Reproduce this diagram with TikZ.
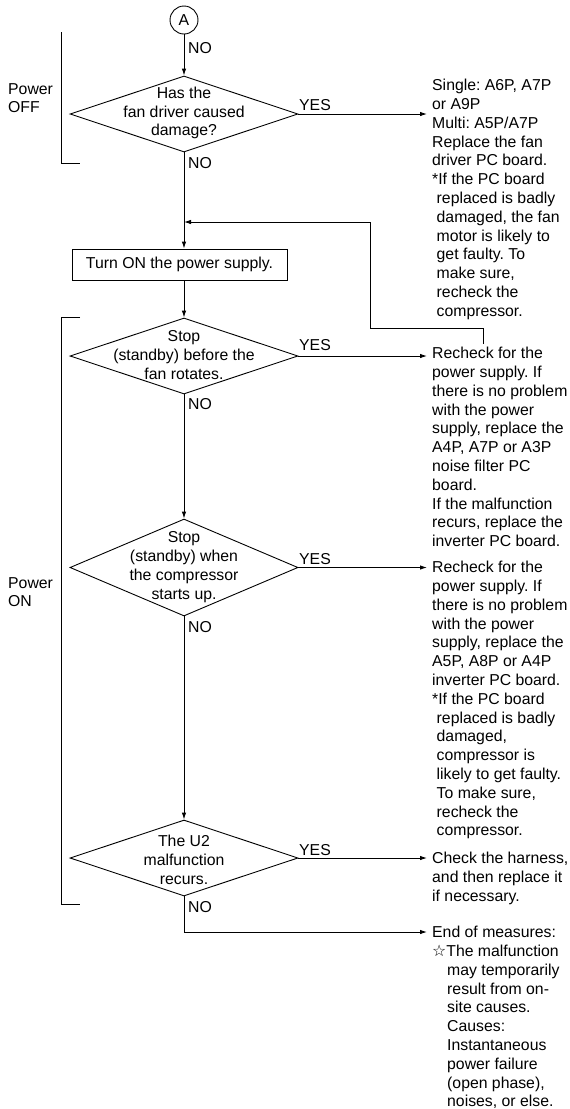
\documentclass[tikz,border=0pt]{standalone}
\usepackage{fontspec}
\setmainfont{Liberation Sans}
\newfontfamily\symfont{DejaVu Sans}
\usetikzlibrary{shapes.geometric,arrows.meta}
\newcommand\myfs{\fontsize{15.8}{18.8}\selectfont\frenchspacing}
\begin{document}
\begin{tikzpicture}[x=1pt,y=-1pt,
  every node/.style={font=\myfs, inner sep=0pt},
  ln/.style={line width=0.9pt},
  arr/.style={line width=0.9pt, -{Latex[length=7pt,width=4.5pt]}},
  decision/.style={draw, line width=0.9pt, diamond, minimum width=228pt, minimum height=76pt},
  dtext/.style={align=center},
  block/.style={align=left, anchor=north west},
  procbox/.style={draw, line width=0.9pt, minimum width=215pt, minimum height=31pt},
  conn/.style={draw, line width=0.9pt, circle, minimum size=28pt},
  lab/.style={anchor=west}
]
\useasboundingbox (0,0) rectangle (570,1109);

% connector A
\node[conn] (A) at (184,20) {A};

% decisions
\node[decision] (d1) at (184,114) {};
\node[dtext] (d1t) at (184,113) {Has the\\fan driver caused\\damage?};

\node[procbox] (box) at (179.5,264.5) {Turn ON the power supply.};

\node[decision] (d2) at (184,356) {};
\node[dtext] (d2t) at (184,355) {Stop\\(standby) before the\\fan rotates.};

\node[decision, minimum height=97pt] (d3) at (184,567.5) {};
\node[dtext] (d3t) at (184,567) {Stop\\(standby) when\\the compressor\\starts up.};

\node[decision] (d4) at (184,858) {};
\node[dtext] (d4t) at (184,860) {The U2\\malfunction\\recurs.};

% right text blocks
\node[block] (b1) at (432,79) {Single: A6P, A7P\\or A9P\\Multi: A5P/A7P\\Replace the fan\\driver PC board.\\*If the PC board\\\hspace*{4.5pt}replaced is badly\\\hspace*{4.5pt}damaged, the fan\\\hspace*{4.5pt}motor is likely to\\\hspace*{4.5pt}get faulty. To\\\hspace*{4.5pt}make sure,\\\hspace*{4.5pt}recheck the\\\hspace*{4.5pt}compressor.};

\node[block] (b2) at (432,347) {Recheck for the\\power supply. If\\there is no problem\\with the power\\supply, replace the\\A4P, A7P or A3P\\noise filter PC\\board.\\If the malfunction\\recurs, replace the\\inverter PC board.};

\node[block] (b3) at (432,561) {Recheck for the\\power supply. If\\there is no problem\\with the power\\supply, replace the\\A5P, A8P or A4P\\inverter PC board.\\*If the PC board\\\hspace*{4.5pt}replaced is badly\\\hspace*{4.5pt}damaged,\\\hspace*{4.5pt}compressor is\\\hspace*{4.5pt}likely to get faulty.\\\hspace*{4.5pt}To make sure,\\\hspace*{4.5pt}recheck the\\\hspace*{4.5pt}compressor.};

\node[block] (b4) at (432,852) {Check the harness,\\and then replace it\\if necessary.};

\node[block] (b5) at (432,926) {End of measures:\\{\symfont ☆}The malfunction\\\hspace*{15pt}may temporarily\\\hspace*{15pt}result from on-\\\hspace*{15pt}site causes.\\\hspace*{15pt}Causes:\\\hspace*{15pt}Instantaneous\\\hspace*{15pt}power failure\\\hspace*{15pt}(open phase),\\\hspace*{15pt}noises, or else.};

% side labels
\node[block] (poff) at (8,83) {Power\\OFF};
\node[block] (pon) at (8,577) {Power\\ON};

% NO / YES labels
\node[lab] (no1) at (188,48) {NO};
\node[lab] (no2) at (188,163) {NO};
\node[lab] (no3) at (188,404) {NO};
\node[lab] (no4) at (188,627) {NO};
\node[lab] (no5) at (188,907) {NO};
\node[anchor=south west] (y1) at (299,111) {YES};
\node[anchor=south west] (y2) at (299,351) {YES};
\node[anchor=south west] (y3) at (299,565) {YES};
\node[anchor=south west] (y4) at (299,856) {YES};

% brackets
\draw[ln] (61,32) -- (61,163) -- (80,163);
\draw[ln] (80,317) -- (61,317) -- (61,904) -- (80,904);

% main flow
\draw[arr] (A) -- (d1);
\draw[arr] (d1.south) -- (d1.south |- box.north);
\draw[arr] (box.south -| d2.north) -- (d2.north);
\draw[arr] (d2.south) -- (d3.north);
\draw[arr] (d3.south) -- (d4.north);

% feedback
\coordinate (fb) at (483,344);
\coordinate (j1) at (184,222);
\draw[arr] (fb) -- (483,328) -| (370,222) -- (j1);

% YES arrows
\draw[arr, shorten >=5pt] (d1.east) -- (d1.east -| b1.west);
\draw[arr, shorten >=5pt] (d2.east) -- (d2.east -| b2.west);
\draw[arr, shorten >=5pt] (d3.east) -- (d3.east -| b3.west);
\draw[arr, shorten >=5pt] (d4.east) -- (d4.east -| b4.west);

% end arrow
\coordinate (e5) at (432,932);
\draw[arr, shorten >=5pt] (d4.south) |- (e5);
\end{tikzpicture}
\end{document}
